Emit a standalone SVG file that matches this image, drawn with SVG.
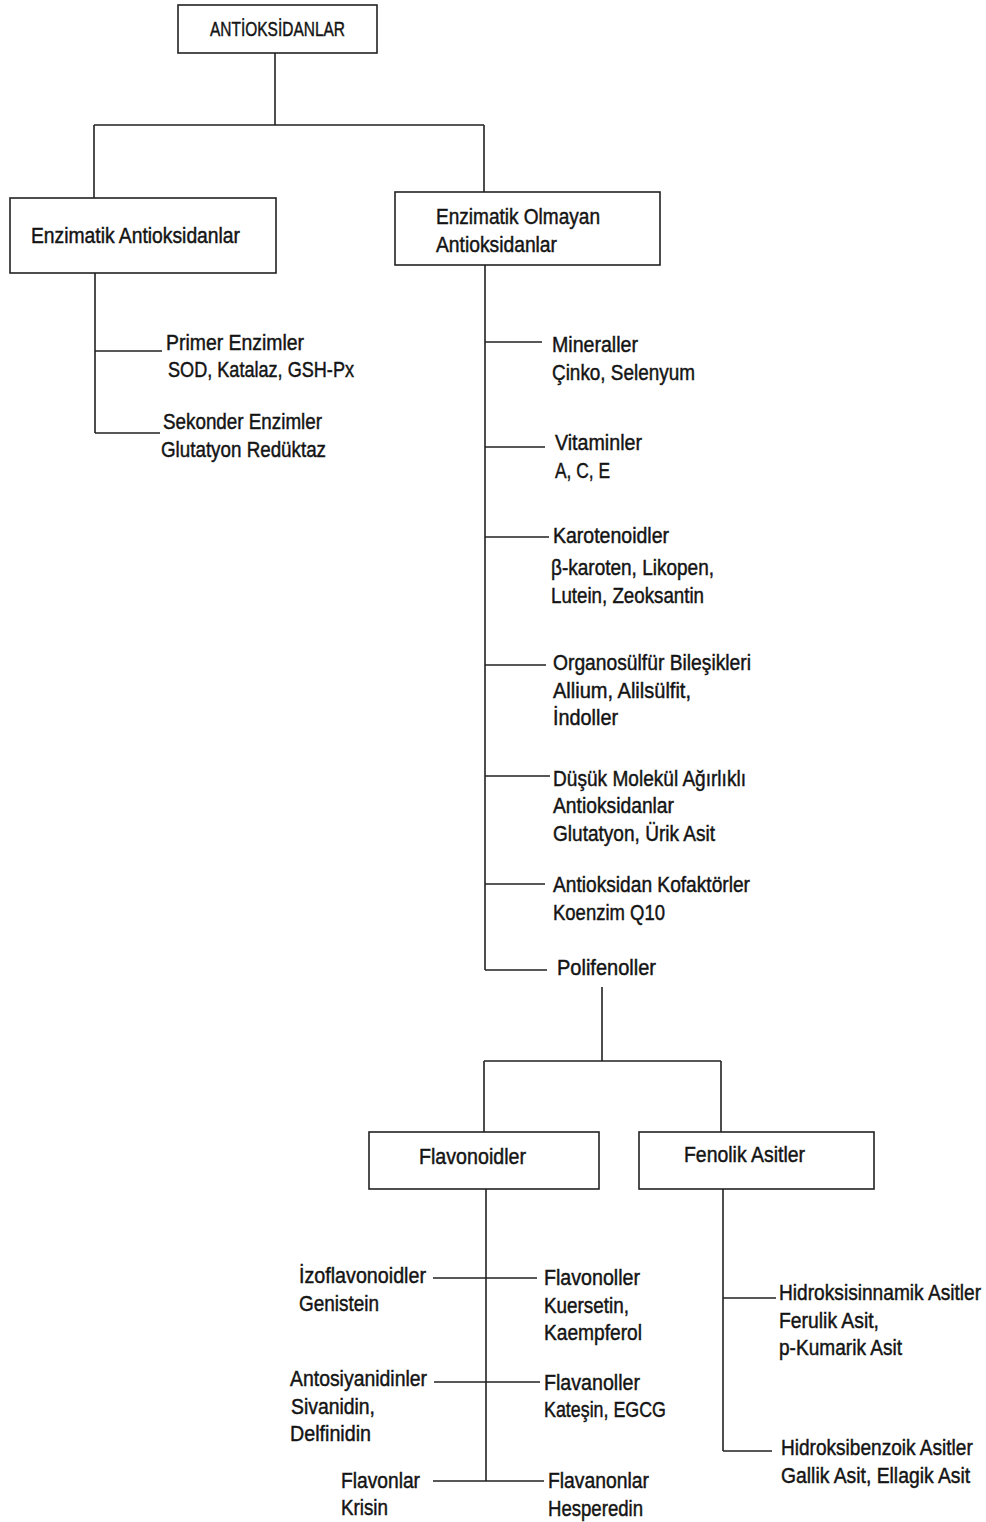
<svg xmlns="http://www.w3.org/2000/svg" width="986" height="1522" viewBox="0 0 986 1522">
<style>
text{font-family:"Liberation Sans",Arial,sans-serif;font-size:22px;fill:#141414;stroke:#141414;stroke-width:0.45;}
.box{fill:#fff;stroke:#222;stroke-width:1.6;}
.ln{stroke:#222;stroke-width:1.6;fill:none;}
</style>
<rect width="986" height="1522" fill="#fff"/>
<g id="connectors">
<path class="ln" d="M275 53V125M94 125H484M94 125V198M484 125V192"/>
<path class="ln" d="M95 273V433M95 351H162M95 433H160"/>
<path class="ln" d="M485 265V970M485 342H542M485 447H545M485 537H549M485 665H546M485 776H550M485 884H545M485 970H547"/>
<path class="ln" d="M602 987V1061M484 1061H721M484 1061V1132M721 1061V1132"/>
<path class="ln" d="M486 1189V1481M433 1278H537M434 1382H540M433 1481H544"/>
<path class="ln" d="M723 1189V1451M723 1298H776M723 1451H772"/>
</g>
<g id="root"><rect class="box" x="178" y="5" width="199" height="48"/><text x="210" y="36" textLength="135" lengthAdjust="spacingAndGlyphs" style="font-size:21px">ANTİOKSİDANLAR</text></g>
<g id="enzimatik"><rect class="box" x="10" y="198" width="266" height="75"/><text x="31" y="243" textLength="209" lengthAdjust="spacingAndGlyphs">Enzimatik Antioksidanlar</text></g>
<g id="enzimatik-olmayan"><rect class="box" x="395" y="192" width="265" height="73"/><text x="436" y="224" textLength="164" lengthAdjust="spacingAndGlyphs">Enzimatik Olmayan</text><text x="436" y="252" textLength="121" lengthAdjust="spacingAndGlyphs">Antioksidanlar</text></g>
<g id="primer"><text x="166" y="350" textLength="138" lengthAdjust="spacingAndGlyphs">Primer Enzimler</text><text x="168" y="377" textLength="186" lengthAdjust="spacingAndGlyphs">SOD, Katalaz, GSH-Px</text></g>
<g id="sekonder"><text x="163" y="429" textLength="159" lengthAdjust="spacingAndGlyphs">Sekonder Enzimler</text><text x="161" y="457" textLength="165" lengthAdjust="spacingAndGlyphs">Glutatyon Redüktaz</text></g>
<g id="mineraller"><text x="552" y="352" textLength="86" lengthAdjust="spacingAndGlyphs">Mineraller</text><text x="552" y="380" textLength="143" lengthAdjust="spacingAndGlyphs">Çinko, Selenyum</text></g>
<g id="vitaminler"><text x="555" y="450" textLength="87" lengthAdjust="spacingAndGlyphs">Vitaminler</text><text x="555" y="478" textLength="55" lengthAdjust="spacingAndGlyphs">A, C, E</text></g>
<g id="karotenoidler"><text x="553" y="543" textLength="116" lengthAdjust="spacingAndGlyphs">Karotenoidler</text><text x="551" y="575" textLength="163" lengthAdjust="spacingAndGlyphs">β-karoten, Likopen,</text><text x="551" y="603" textLength="153" lengthAdjust="spacingAndGlyphs">Lutein, Zeoksantin</text></g>
<g id="organosulfur"><text x="553" y="670" textLength="198" lengthAdjust="spacingAndGlyphs">Organosülfür Bileşikleri</text><text x="553" y="698" textLength="138" lengthAdjust="spacingAndGlyphs">Allium, Alilsülfit,</text><text x="553" y="725" textLength="65" lengthAdjust="spacingAndGlyphs">İndoller</text></g>
<g id="dusuk"><text x="553" y="786" textLength="193" lengthAdjust="spacingAndGlyphs">Düşük Molekül Ağırlıklı</text><text x="553" y="813" textLength="121" lengthAdjust="spacingAndGlyphs">Antioksidanlar</text><text x="553" y="841" textLength="162" lengthAdjust="spacingAndGlyphs">Glutatyon, Ürik Asit</text></g>
<g id="kofaktor"><text x="553" y="892" textLength="197" lengthAdjust="spacingAndGlyphs">Antioksidan Kofaktörler</text><text x="553" y="920" textLength="112" lengthAdjust="spacingAndGlyphs">Koenzim Q10</text></g>
<g id="polifenoller"><text x="557" y="975" textLength="99" lengthAdjust="spacingAndGlyphs">Polifenoller</text></g>
<g id="flavonoidler"><rect class="box" x="369" y="1132" width="230" height="57"/><text x="419" y="1164" textLength="107" lengthAdjust="spacingAndGlyphs">Flavonoidler</text></g>
<g id="fenolik"><rect class="box" x="639" y="1132" width="235" height="57"/><text x="684" y="1162" textLength="121" lengthAdjust="spacingAndGlyphs">Fenolik Asitler</text></g>
<g id="izoflavonoidler"><text x="299" y="1283" textLength="127" lengthAdjust="spacingAndGlyphs">İzoflavonoidler</text><text x="299" y="1311" textLength="80" lengthAdjust="spacingAndGlyphs">Genistein</text></g>
<g id="antosiyanidinler"><text x="290" y="1386" textLength="137" lengthAdjust="spacingAndGlyphs">Antosiyanidinler</text><text x="291" y="1414" textLength="84" lengthAdjust="spacingAndGlyphs">Sivanidin,</text><text x="290" y="1441" textLength="81" lengthAdjust="spacingAndGlyphs">Delfinidin</text></g>
<g id="flavonlar"><text x="341" y="1488" textLength="79" lengthAdjust="spacingAndGlyphs">Flavonlar</text><text x="341" y="1515" textLength="47" lengthAdjust="spacingAndGlyphs">Krisin</text></g>
<g id="flavonoller"><text x="544" y="1285" textLength="96" lengthAdjust="spacingAndGlyphs">Flavonoller</text><text x="544" y="1313" textLength="85" lengthAdjust="spacingAndGlyphs">Kuersetin,</text><text x="544" y="1340" textLength="98" lengthAdjust="spacingAndGlyphs">Kaempferol</text></g>
<g id="flavanoller"><text x="544" y="1390" textLength="96" lengthAdjust="spacingAndGlyphs">Flavanoller</text><text x="544" y="1417" textLength="122" lengthAdjust="spacingAndGlyphs">Kateşin, EGCG</text></g>
<g id="flavanonlar"><text x="548" y="1488" textLength="101" lengthAdjust="spacingAndGlyphs">Flavanonlar</text><text x="548" y="1516" textLength="95" lengthAdjust="spacingAndGlyphs">Hesperedin</text></g>
<g id="hidroksisinnamik"><text transform="translate(779 1300) scale(0.86 1)" x="0" y="0" textLength="235" lengthAdjust="spacingAndGlyphs">Hidroksisinnamik Asitler</text><text x="779" y="1328" textLength="100" lengthAdjust="spacingAndGlyphs">Ferulik Asit,</text><text x="779" y="1355" textLength="123" lengthAdjust="spacingAndGlyphs">p-Kumarik Asit</text></g>
<g id="hidroksibenzoik"><text transform="translate(781 1455) scale(0.86 1)" x="0" y="0" textLength="223" lengthAdjust="spacingAndGlyphs">Hidroksibenzoik Asitler</text><text transform="translate(781 1483) scale(0.86 1)" x="0" y="0" textLength="220" lengthAdjust="spacingAndGlyphs">Gallik Asit, Ellagik Asit</text></g>
</svg>
